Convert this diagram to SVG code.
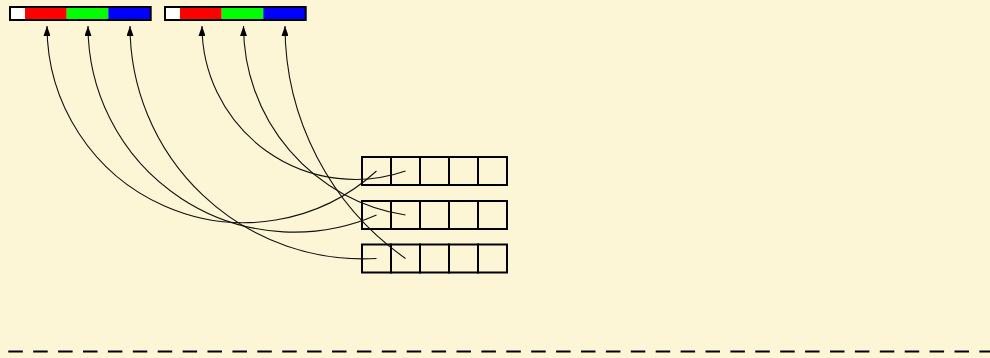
<svg xmlns="http://www.w3.org/2000/svg" width="990" height="358" viewBox="0 0 990 358">
  <style>
    .frame { fill: none; stroke: #000; stroke-width: 2; }
    .cell { fill: none; stroke: #000; stroke-width: 2; }
    .link { fill: none; stroke: #111; stroke-width: 1.1; marker-end: url(#tip); }
    .dash { stroke: #000; stroke-width: 2; stroke-dasharray: 14.5 10.4; }
  </style>
  <defs>
    <marker id="tip" markerUnits="userSpaceOnUse" markerWidth="10" markerHeight="7" refX="10" refY="3.5" orient="auto">
      <path d="M0,0 L10,3.5 L0,7 z" fill="#000"/>
    </marker>
    <g id="pixel">
      <rect x="0" y="0" width="15" height="13" fill="#fff"/>
      <rect x="15" y="0" width="41.7" height="13" fill="#f00"/>
      <rect x="56.7" y="0" width="41.6" height="13" fill="#0f0"/>
      <rect x="98.3" y="0" width="42.4" height="13" fill="#00f"/>
      <rect x="0" y="0" width="140.7" height="13" class="frame"/>
    </g>
    <g id="row">
      <rect x="0" y="0" width="29" height="28" class="cell"/>
      <rect x="29" y="0" width="29" height="28" class="cell"/>
      <rect x="58" y="0" width="29" height="28" class="cell"/>
      <rect x="87" y="0" width="29" height="28" class="cell"/>
      <rect x="116" y="0" width="29" height="28" class="cell"/>
    </g>
  </defs>

  <rect width="990" height="358" fill="#fdf6d6"/>

  <g id="pixel-a"><use href="#pixel" x="10" y="7"/></g>
  <g id="pixel-b"><use href="#pixel" x="165" y="7"/></g>

  <g id="row-1"><use href="#row" x="362" y="157"/></g>
  <g id="row-2"><use href="#row" x="362" y="201"/></g>
  <g id="row-3"><use href="#row" x="362" y="244.5"/></g>

  <g id="connectors">
    <path class="link" d="M376.5 171 A196.65 196.65 0 0 1 47 26"/>
    <path class="link" d="M376.5 215 A206.16 206.16 0 0 1 88 26"/>
    <path class="link" d="M376.5 258.5 A232.9 232.9 0 0 1 130 26"/>
    <path class="link" d="M405.5 171 A153.4 153.4 0 0 1 202 26"/>
    <path class="link" d="M405.5 215 A191.25 191.25 0 0 1 243.5 26"/>
    <path class="link" d="M405.5 258.5 A284.5 284.5 0 0 1 285 26"/>
  </g>

  <line class="dash" x1="8.3" y1="351.5" x2="990" y2="351.5"/>
</svg>
